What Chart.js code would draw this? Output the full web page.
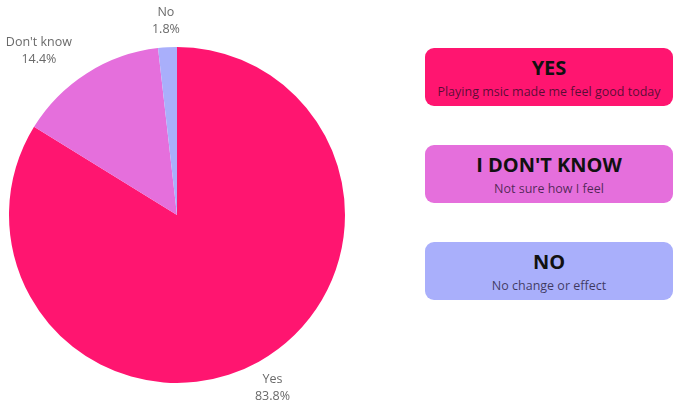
<!DOCTYPE html>
<html>
<head>
<meta charset="utf-8">
<script src="https://cdn.jsdelivr.net/npm/chart.js@4"></script>
<style>
    html, body { margin: 0; padding: 0; background: #ffffff; }
    body { width: 674px; height: 405px; position: relative; overflow: hidden; font-family: "Open Sans", sans-serif; }
    #pieWrap { position: absolute; left: 0; top: 0; width: 354px; height: 405px; }
    .card {
        position: absolute; left: 425px; width: 248px; height: 58px;
        border-radius: 9px; text-align: center; box-sizing: border-box; padding-top: 8px;
    }
    .card h3 { margin: 0; font-size: 20px; line-height: 24px; font-weight: 700; color: #111111; }
    .card p { margin: 3px 0 0 0; font-size: 12.5px; line-height: 18px; color: rgba(20, 10, 30, 0.72); font-weight: 400; }
</style>
</head>
<body>
<div id="pieWrap"><canvas id="pie"></canvas></div>
<div id="cards"></div>
<script>
    const categories = ["Yes", "Don't know", "No"];
    const percentages = [83.8, 14.4, 1.8];
    const sliceColors = ["#ff1570", "#e56fdc", "#a9affb"];
    const cardTitles = ["YES", "I DON'T KNOW", "NO"];
    const cardNotes = ["Playing msic made me feel good today", "Not sure how I feel", "No change or effect"];

    const cardTops = [48, 145, 242];
    const cards = document.getElementById("cards");
    cardTitles.forEach((title, i) => {
        const card = document.createElement("div");
        card.className = "card";
        card.style.top = cardTops[i] + "px";
        card.style.background = sliceColors[i];
        card.innerHTML = `<h3>${title}</h3><p>${cardNotes[i]}</p>`;
        cards.appendChild(card);
    });

    // labels sit just outside the rim; blocks clearly on the left end at the anchor point
    const outsideLabels = {
        id: "outsideLabels",
        afterDraw(chart) {
            const { ctx } = chart;
            const meta = chart.getDatasetMeta(0);
            ctx.save();
            ctx.font = "12.5px 'Open Sans', sans-serif";
            ctx.fillStyle = "#6a6a6a";
            ctx.textAlign = "center";
            ctx.textBaseline = "middle";
            meta.data.forEach((arc, i) => {
                const mid = (arc.startAngle + arc.endAngle) / 2;
                const r = arc.outerRadius + 28;
                let x = arc.x + Math.cos(mid) * r;
                const y = arc.y + Math.sin(mid) * r;
                const line1 = categories[i];
                const line2 = percentages[i].toFixed(1) + "%";
                if (Math.cos(mid) < -0.3) {
                    const w = Math.max(ctx.measureText(line1).width, ctx.measureText(line2).width);
                    x -= w / 2;
                }
                ctx.fillText(line1, x, y - 7);
                ctx.fillText(line2, x, y + 10);
            });
            ctx.restore();
        }
    };

    new Chart(document.getElementById("pie"), {
        type: "pie",
        data: {
            labels: categories,
            datasets: [
                {
                    data: percentages,
                    backgroundColor: sliceColors,
                    borderWidth: 0
                }
            ]
        },
        options: {
            responsive: true,
            maintainAspectRatio: false,
            animation: false,
            layout: {
                padding: { top: 47, bottom: 22, left: 9, right: 9 }
            },
            plugins: {
                legend: { display: false },
                tooltip: { enabled: false }
            }
        },
        plugins: [outsideLabels]
    });
</script>
</body>
</html>
